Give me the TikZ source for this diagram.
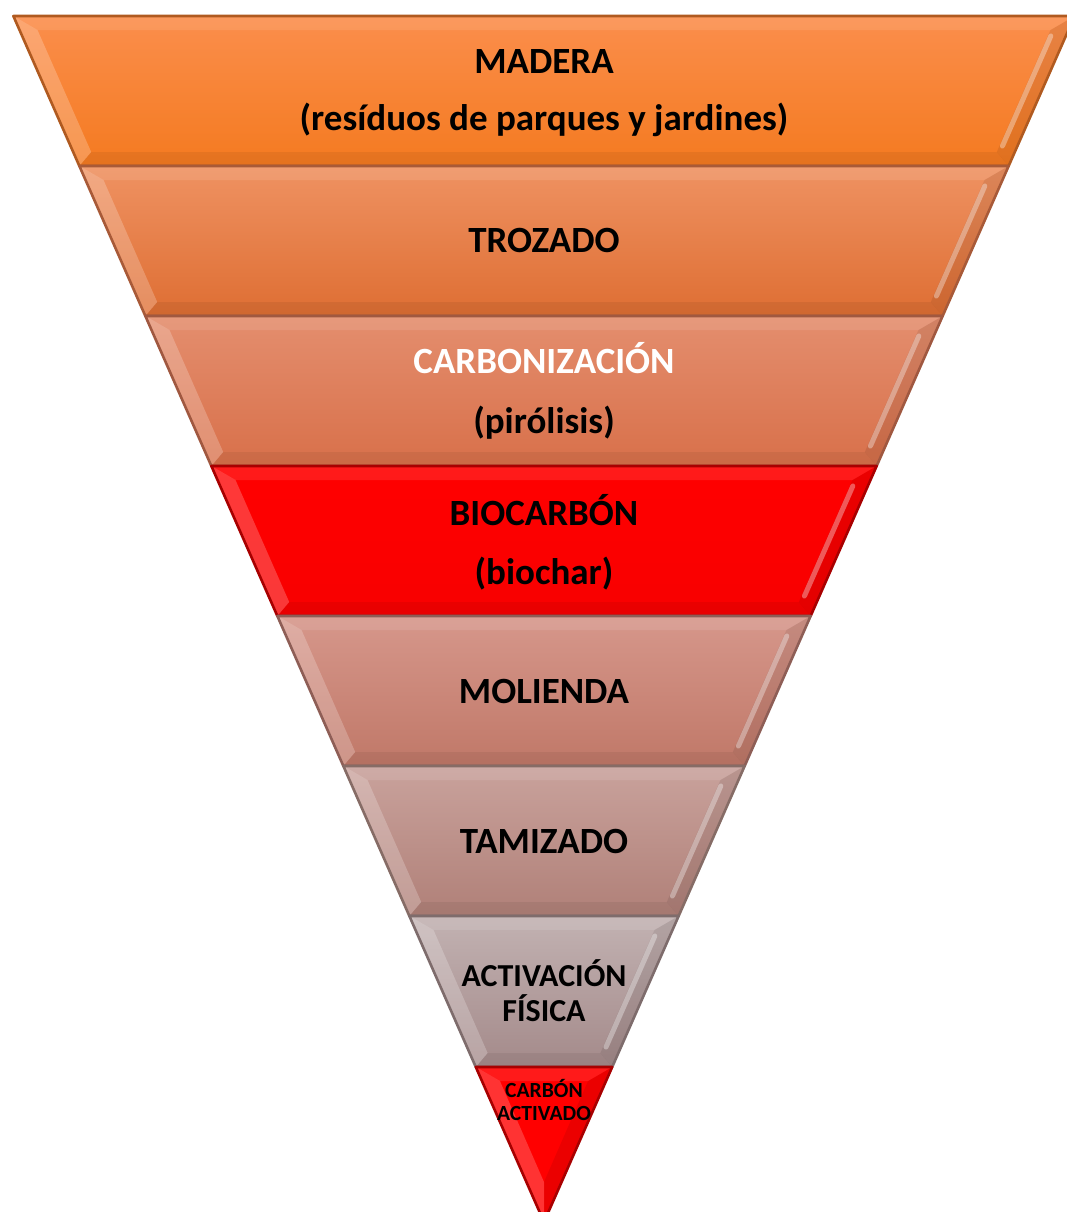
\documentclass[tikz,border=0pt]{standalone}
\usepackage{fontspec}
\setmainfont{Carlito}
\definecolor{aT}{HTML}{FB8E4C}\definecolor{aB}{HTML}{F47A20}\definecolor{aE}{HTML}{B05A20}
\definecolor{bT}{HTML}{EF9262}\definecolor{bB}{HTML}{DE6E33}\definecolor{bE}{HTML}{A85A38}
\definecolor{cT}{HTML}{E48E6E}\definecolor{cB}{HTML}{D8704A}\definecolor{cE}{HTML}{A05840}
\definecolor{dT}{HTML}{FF0000}\definecolor{dB}{HTML}{F80000}\definecolor{dE}{HTML}{A80000}
\definecolor{eT}{HTML}{D6978B}\definecolor{eB}{HTML}{C07868}\definecolor{eE}{HTML}{8E5E56}
\definecolor{fT}{HTML}{C9A29C}\definecolor{fB}{HTML}{B08078}\definecolor{fE}{HTML}{866C66}
\definecolor{gT}{HTML}{C2B2B2}\definecolor{gB}{HTML}{A48A8A}\definecolor{gE}{HTML}{7E6C6C}
\newcommand\funnelband[5]{%
  \pgfmathsetmacro\hA{0.44*(1222-#1)}%
  \pgfmathsetmacro\hB{0.44*(1222-#2)}%
  \pgfmathsetmacro\yAi{#1+14}%
  \pgfmathsetmacro\yBi{#2-14}%
  \pgfmathsetmacro\hAi{0.44*(1222-\yAi)-18}%
  \pgfmathsetmacro\hBi{0.44*(1222-\yBi)-18}%
  \pgfmathsetmacro\yHa{\yAi+6}%
  \pgfmathsetmacro\yHb{\yBi-6}%
  \pgfmathsetmacro\hHa{0.44*(1222-\yHa)-15}%
  \pgfmathsetmacro\hHb{0.44*(1222-\yHb)-15}%
  \coordinate (LA) at (544-\hA,#1);
  \coordinate (RA) at (544+\hA,#1);
  \coordinate (LB) at (544-\hB,#2);
  \coordinate (RB) at (544+\hB,#2);
  \coordinate (LAi) at (544-\hAi,\yAi);
  \coordinate (RAi) at (544+\hAi,\yAi);
  \coordinate (LBi) at (544-\hBi,\yBi);
  \coordinate (RBi) at (544+\hBi,\yBi);
  \shade[top color=#3, bottom color=#4] (LA)--(RA)--(RB)--(LB)--cycle;
  \fill[white,opacity=0.10] (LA)--(RA)--(RAi)--(LAi)--cycle;
  \fill[white,opacity=0.22] (LA)--(LAi)--(LBi)--(LB)--cycle;
  \fill[black,opacity=0.08] (RA)--(RB)--(RBi)--(RAi)--cycle;
  \fill[black,opacity=0.06] (LB)--(RB)--(RBi)--(LBi)--cycle;
  \draw[white,opacity=0.35,line width=2.5,line cap=round] (544+\hHa,\yHa)--(544+\hHb,\yHb);
  \draw[#5,line width=1.3,line join=round] (LA)--(RA)--(RB)--(LB)--cycle;
}
\begin{document}
\begin{tikzpicture}[x=0.5pt,y=-0.5pt,
  lbl/.style={font=\bfseries\fontsize{18.5}{18.5}\selectfont,anchor=base,inner sep=0pt,text=black},
  lbls/.style={font=\bfseries\fontsize{16}{16}\selectfont,anchor=base,inner sep=0pt,text=black},
  lblt/.style={font=\bfseries\fontsize{10.8}{10.8}\selectfont,anchor=base,inner sep=0pt,text=black}]
\useasboundingbox (0,0) rectangle (1067,1212);
\clip (0,0) rectangle (1067,1212);
\funnelband{16}{166}{aT}{aB}{aE}
\funnelband{166}{316}{bT}{bB}{bE}
\funnelband{316}{466}{cT}{cB}{cE}
\funnelband{466}{616}{dT}{dB}{dE}
\funnelband{616}{766}{eT}{eB}{eE}
\funnelband{766}{916}{fT}{fB}{fE}
\funnelband{916}{1067}{gT}{gB}{gE}
% bottom triangle
\pgfmathsetmacro\hT{0.44*(1222-1067)}
\pgfmathsetmacro\hTi{0.44*(1222-1081)-18}
\coordinate (TL) at (544-\hT,1067);
\coordinate (TR) at (544+\hT,1067);
\coordinate (TA) at (544,1222);
\coordinate (TLi) at (544-\hTi,1081);
\coordinate (TRi) at (544+\hTi,1081);
\coordinate (TAi) at (544,1182);
\fill[red] (TL)--(TR)--(TA)--cycle;
\fill[white,opacity=0.10] (TL)--(TR)--(TRi)--(TLi)--cycle;
\fill[white,opacity=0.20] (TL)--(TLi)--(TAi)--(TA)--cycle;
\fill[black,opacity=0.08] (TR)--(TA)--(TAi)--(TRi)--cycle;
\draw[dE,line width=1.3,line join=round] (TL)--(TR)--(TA)--cycle;
% labels
\node[lbl] (t1a) at (544,73.5) {MADERA};
\node[lbl] (t1b) at (544,130) {(resíduos de parques y jardines)};
\node[lbl] (t2) at (544,252) {TROZADO};
\node[lbl,text=white] (t3a) at (544,373) {CARBONIZACIÓN};
\node[lbl] (t3b) at (544,433) {(pirólisis)};
\node[lbl] (t4a) at (544,525) {BIOCARBÓN};
\node[lbl] (t4b) at (544,584) {(biochar)};
\node[lbl] (t5) at (544,703) {MOLIENDA};
\node[lbl] (t6) at (544,853) {TAMIZADO};
\node[lbls] (t7a) at (544,986) {ACTIVACIÓN};
\node[lbls] (t7b) at (544,1021) {FÍSICA};
\node[lblt] (t8a) at (544,1097) {CARBÓN};
\node[lblt] (t8b) at (544,1120) {ACTIVADO};
\end{tikzpicture}
\end{document}
